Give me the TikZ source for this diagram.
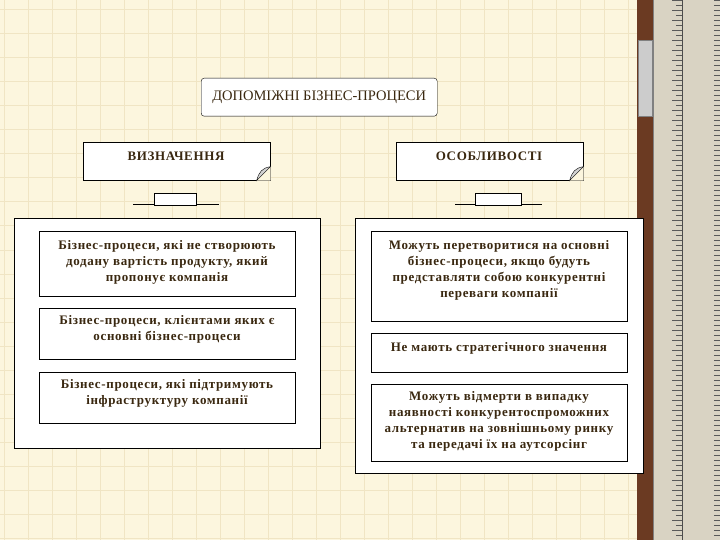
\documentclass[tikz,border=0pt]{standalone}
\usepackage{fontspec}
\setmainfont{Liberation Serif}
\definecolor{bg}{HTML}{FCF6DE}
\definecolor{gridc}{HTML}{F0E5C4}
\definecolor{txt}{HTML}{3A2810}
\definecolor{wood}{HTML}{6B3A22}
\definecolor{rul}{HTML}{D9D3C3}
\tikzset{
 panel/.style={draw=black,fill=white,line width=0.8pt},
 inbox/.style={draw=black,fill=white,line width=0.8pt,inner sep=0pt,anchor=north west},
 btxt/.style={text=txt,font=\bfseries\fontsize{13}{16}\selectfont\addfontfeature{LetterSpace=5},align=center,anchor=north,inner sep=0pt},
 head/.style={draw=black,fill=white,line width=0.6pt,anchor=north west,inner sep=0pt},
}
\begin{document}
\begin{tikzpicture}[x=1pt,y=-1pt]
\useasboundingbox (0,0) rectangle (720,540);
\fill[bg] (0,0) rectangle (720,540);
\foreach \i in {0,...,27} \draw[gridc,line width=1pt] (\i*24+4,0) -- (\i*24+4,540);
\foreach \j in {0,...,22} \draw[gridc,line width=1pt] (0,\j*24+10) -- (637,\j*24+10);
% ruler
\fill[wood] (637,0) rectangle (653,540);
\fill[rul] (653,0) rectangle (720,540);
\draw[gray] (653,0) -- (653,540);
\fill[gray!40,draw=gray] (638,40) rectangle (652,116);
\foreach \k in {0,...,107} \draw[gray!70!black,line width=0.3pt] (676,\k*5) -- (682,\k*5);
\foreach \k in {0,...,107} \draw[gray!70!black,line width=0.3pt] (714,\k*5) -- (720,\k*5);
\foreach \k in {0,...,53} \draw[gray!70!black,line width=0.3pt] (672,\k*10) -- (682,\k*10);
\draw[gray!60!black,line width=0.4pt] (682,0) -- (682,540);
% title
\node[draw=black,fill=white,rounded corners=3pt,minimum width=236pt,minimum height=38pt,anchor=north west,inner sep=0pt,text=txt,font=\fontsize{14.5}{16}\selectfont] (title) at (201,78) {ДОПОМІЖНІ БІЗНЕС-ПРОЦЕСИ};
% headers
\node[head,minimum width=187pt,minimum height=38pt] (defn) at (83,142) {};
\node[btxt] (defnt) at (176,152) {ВИЗНАЧЕННЯ};
\fill[bg] (defn.south east) -- ++(0,-14) -- ++(-14,14) -- cycle;
\draw[fill=gray!35] (defn.south east) ++(0,-14) -- ++(-14,14) .. controls (259,172) and (262,168) .. cycle;
\node[head,minimum width=187pt,minimum height=38pt] (feat) at (396,142) {};
\node[btxt] (featt) at (489,152) {ОСОБЛИВОСТІ};
\fill[bg] (feat.south east) -- ++(0,-14) -- ++(-14,14) -- cycle;
\draw[fill=gray!35] (feat.south east) ++(0,-14) -- ++(-14,14) .. controls (572,172) and (575,168) .. cycle;
% connectors
\coordinate (la) at (133,204); \coordinate (lb) at (219,204);
\draw (la) -- (lb);
\node[draw=black,fill=white,minimum width=42pt,minimum height=12pt,inner sep=0pt] (lc) at (175,199) {};
\coordinate (ra) at (455,204); \coordinate (rb) at (542,204);
\draw (ra) -- (rb);
\node[draw=black,fill=white,minimum width=46pt,minimum height=12pt,inner sep=0pt] (rc) at (498,199) {};
% panels
\node[panel,minimum width=306pt,minimum height=230pt,anchor=north west,inner sep=0pt] (lp) at (14,218) {};
\node[panel,minimum width=288pt,minimum height=255pt,anchor=north west,inner sep=0pt] (rp) at (355,218) {};
% left boxes
\node[inbox,minimum width=256pt,minimum height=65pt] (l1) at (39,231) {};
\node[btxt] (l1t) at (167,240) {Бізнес-процеси, які не створюють\\додану вартість продукту, який\\пропонує компанія};
\node[inbox,minimum width=256pt,minimum height=51pt] (l2) at (39,308) {};
\node[btxt] (l2t) at (167,315) {Бізнес-процеси, клієнтами яких є\\основні бізнес-процеси};
\node[inbox,minimum width=256pt,minimum height=51pt] (l3) at (39,372) {};
\node[btxt] (l3t) at (167,379) {Бізнес-процеси, які підтримують\\інфраструктуру компанії};
% right boxes
\node[inbox,minimum width=256pt,minimum height=90pt] (r1) at (371,231) {};
\node[btxt] (r1t) at (499,240) {Можуть перетворитися на основні\\бізнес-процеси, якщо будуть\\представляти собою конкурентні\\переваги компанії};
\node[inbox,minimum width=256pt,minimum height=39pt] (r2) at (371,333) {};
\node[btxt] (r2t) at (499,342) {Не мають стратегічного значення};
\node[inbox,minimum width=256pt,minimum height=77pt] (r3) at (371,384) {};
\node[btxt] (r3t) at (499,391) {Можуть відмерти в випадку\\наявності  конкурентоспроможних\\альтернатив на зовнішньому ринку\\та передачі їх на аутсорсінг};
\end{tikzpicture}
\end{document}
